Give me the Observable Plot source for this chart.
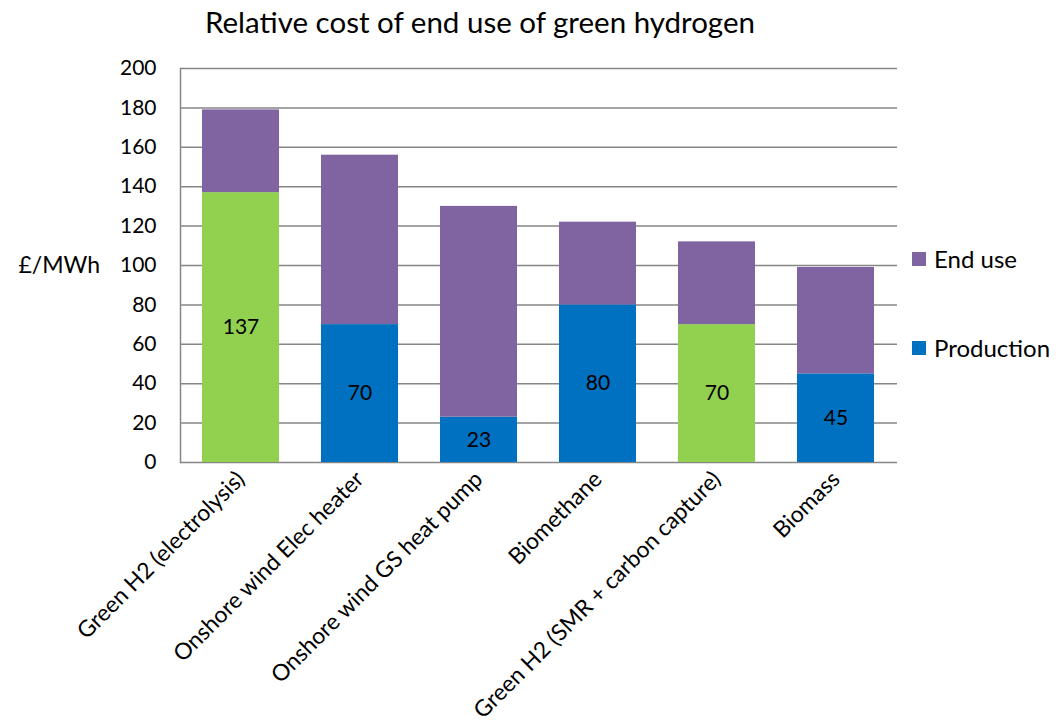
<!DOCTYPE html>
<html>
<head>
<meta charset="utf-8">
<script src="https://cdn.jsdelivr.net/npm/d3@7"></script>
<script src="https://cdn.jsdelivr.net/npm/@observablehq/plot@0.6"></script>
<style>
  body { margin: 0; background: #fff; font-family: Lato, "Open Sans", sans-serif; }
  #wrap { position: relative; width: 1056px; height: 724px; }
  #title { height: 50px; width: 960px; text-align: center; font-size: 29.5px; line-height: 44px; color: #000; }
  .legend-item { position: absolute; left: 912px; display: flex; align-items: center; font-size: 24px; color: #000; }
  .swatch { width: 14px; height: 14px; margin-right: 8px; }
</style>
</head>
<body>
<div id="wrap">
  <div id="title">Relative cost of end use of green hydrogen</div>
  <div id="chart"></div>
  <div class="legend-item" style="top:244px"><span class="swatch" style="background:#8064A2"></span>End use</div>
  <div class="legend-item" style="top:333px"><span class="swatch" style="background:#0070C0"></span>Production</div>
</div>
<script>
// Heating options compared
const categories = [
  "Green H2 (electrolysis)",
  "Onshore wind Elec heater",
  "Onshore wind GS heat pump",
  "Biomethane",
  "Green H2 (SMR + carbon capture)",
  "Biomass"
];
// £/MWh
const production = [137, 70, 23, 80, 70, 45];
const endUse = [42, 86, 107, 42, 42, 54];
// Whether the production route is hydrogen
const hydrogenRoute = [true, false, false, false, true, false];
const yTicks = [0, 20, 40, 60, 80, 100, 120, 140, 160, 180, 200];

const rows = categories.map((c, i) => ({
  category: c,
  production: production[i],
  endUse: endUse[i],
  hydrogen: hydrogenRoute[i]
}));

// Long form for stacking: production first, end use on top
const stacked = rows.flatMap(r => [
  {category: r.category, segment: r.hydrogen ? "Hydrogen production" : "Production", value: r.production, order: 0},
  {category: r.category, segment: "End use", value: r.endUse, order: 1}
]);

const chart = Plot.plot({
  width: 1056,
  height: 674,
  marginTop: 18,
  marginBottom: 262,
  marginLeft: 180,
  marginRight: 159,
  style: {fontFamily: "Lato, 'Open Sans', sans-serif", fontSize: "21px", color: "#000", background: "#fff"},
  x: {domain: categories, paddingInner: 0.35, paddingOuter: 0.175, label: null},
  y: {domain: [0, 200], label: null},
  color: {
    domain: ["Production", "Hydrogen production", "End use"],
    range: ["#0070C0", "#92D050", "#8064A2"]
  },
  marks: [
    Plot.gridY(yTicks, {stroke: "#868686", strokeOpacity: 1, strokeWidth: 1.5}),
    Plot.frame({anchor: "left", stroke: "#868686", strokeWidth: 1.5}),
    Plot.barY(stacked, {x: "category", y: "value", fill: "segment", order: "order"}),
    Plot.text(rows, {x: "category", y: d => d.production / 2, text: d => String(d.production), fontSize: 21, fill: "#000"}),
    Plot.axisY({ticks: yTicks, tickSize: 0, tickPadding: 24, fontSize: 21, label: null}),
    Plot.axisX({tickSize: 0, tickRotate: -45, tickPadding: 13, fontSize: 22.8, label: null}),
    Plot.text(["£/MWh"], {frameAnchor: "left", y: 100, dx: -162, textAnchor: "start", fontSize: 23, fill: "#000"})
  ]
});
document.getElementById("chart").appendChild(chart);
</script>
</body>
</html>
